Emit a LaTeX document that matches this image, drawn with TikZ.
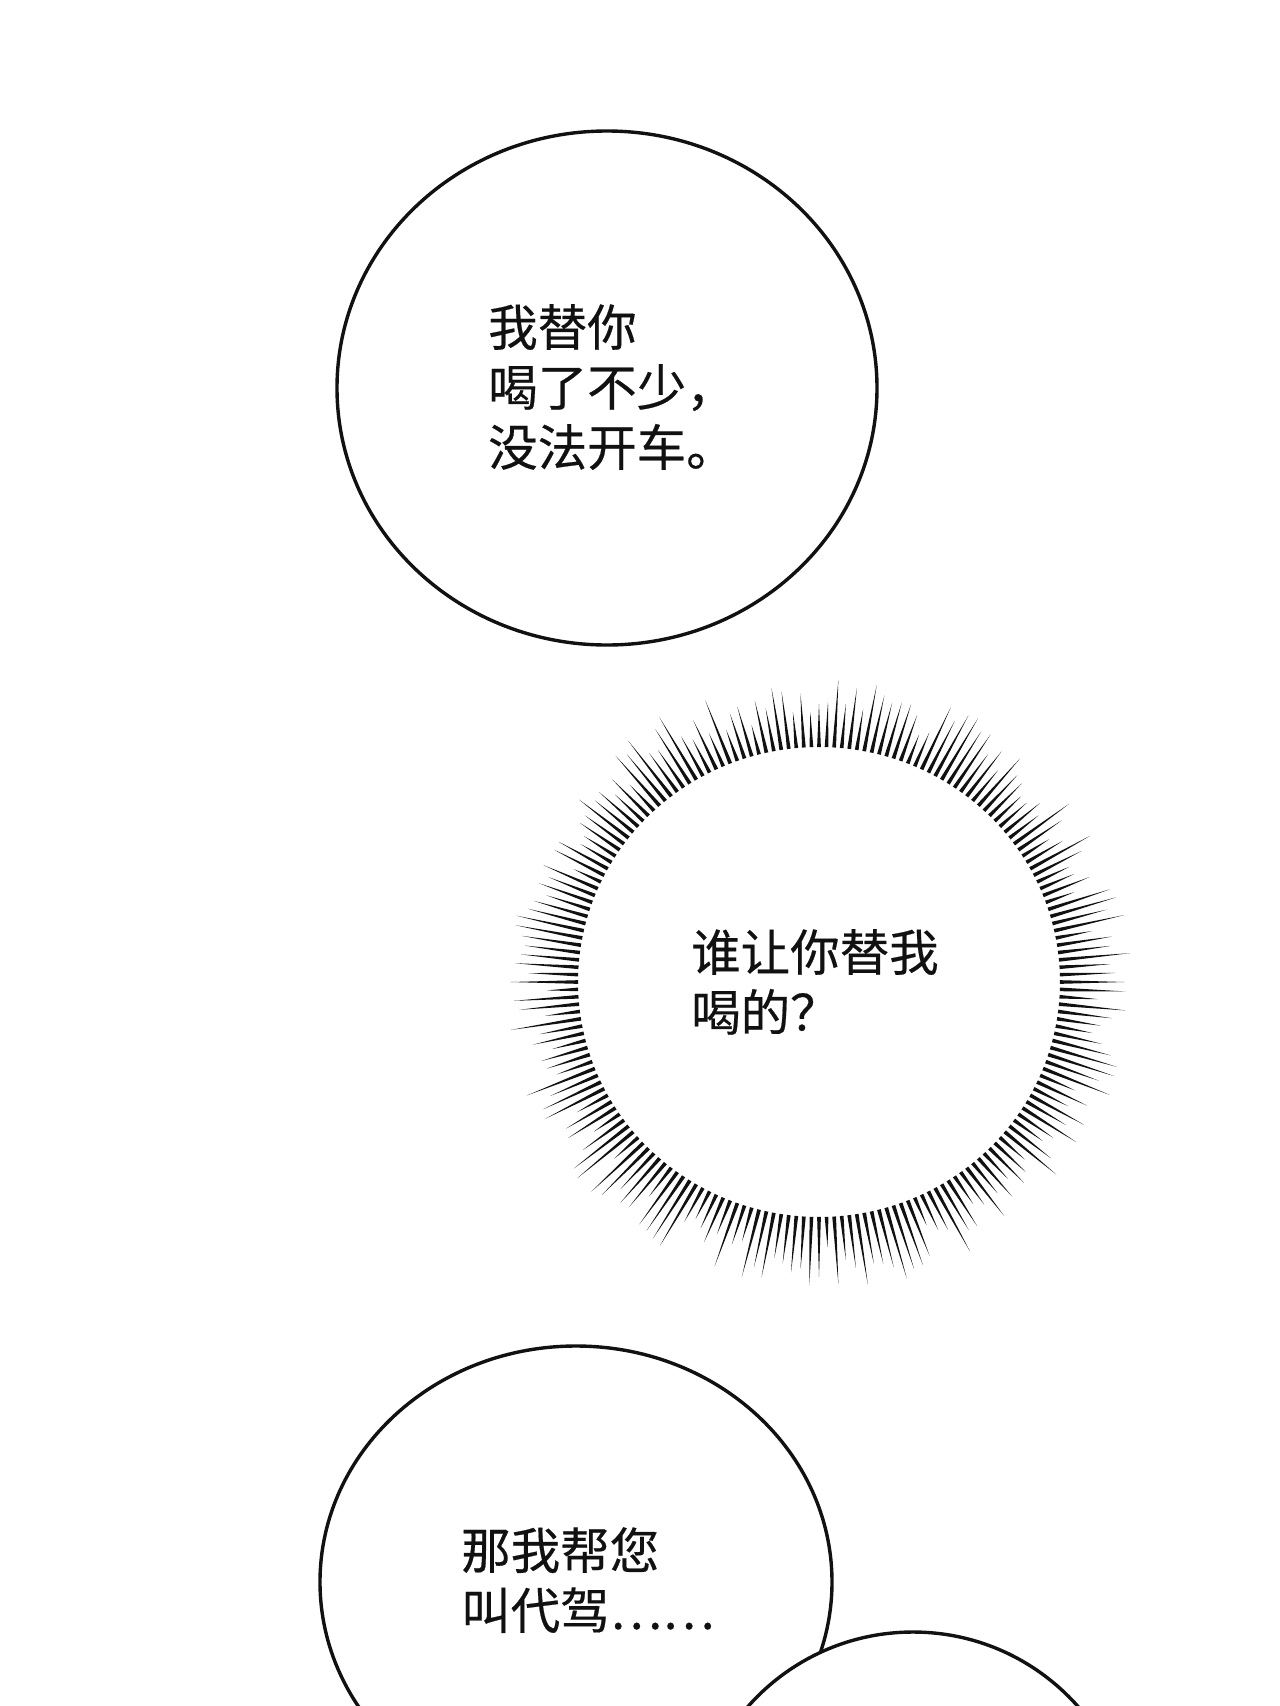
\documentclass[tikz,border=0pt]{standalone}
\usepackage{fontspec}
\setmainfont{Noto Sans CJK SC}[FakeBold=0.4]
\usepackage{tikz}
\usetikzlibrary{shapes.geometric}
\definecolor{ink}{HTML}{111111}
\definecolor{paper}{HTML}{FFFFFF}
\tikzset{
  bubble/.style={ellipse, draw=ink, fill=paper, line width=3.4pt, inner sep=0pt},
  say/.style={text=ink, font=\fontsize{49.5}{60}\selectfont, align=left, inner sep=0pt, anchor=north west},
  spike/.style={fill=ink}
}
\begin{document}
\begin{tikzpicture}[x=1pt,y=-1pt]
  \useasboundingbox (0,0) rectangle (1280,1706);
  \fill[paper] (0,0) rectangle (1280,1706);
  \clip (0,0) rectangle (1280,1706);
  % top bubble
  \node[bubble, minimum width=540pt, minimum height=514pt] (b1) at (607,388) {};
  \node[say] (t1) at (488,304) {我替你\\喝了不少，\\没法开车。};
  % burst
  \coordinate (burst) at (819,982);
  \pgfmathsetseed{4}
  \foreach \i in {0,...,199} {
    \pgfmathsetmacro\a{360/200*\i}
    \pgfmathsetmacro\len{30+44*rnd}
    \pgfmathsetmacro\ax{241*cos(\a-0.45)}
    \pgfmathsetmacro\ay{235*sin(\a-0.45)}
    \pgfmathsetmacro\bx{241*cos(\a+0.45)}
    \pgfmathsetmacro\by{235*sin(\a+0.45)}
    \pgfmathsetmacro\tx{(241+\len)*cos(\a)}
    \pgfmathsetmacro\ty{(235+\len)*sin(\a)}
    \fill[spike] ([shift={(\ax,\ay)}]burst) -- ([shift={(\tx,\ty)}]burst)
      -- ([shift={(\bx,\by)}]burst) -- cycle;
  }
  \node[say] (t2) at (691,929) {谁让你替我\\喝的？};
  % bottom bubbles
  \node[bubble, minimum width=512pt, minimum height=472pt] (b3) at (576,1582) {};
  \node[say] (t3) at (461,1527) {那我帮您\\叫代驾……};
  \node[bubble, minimum width=440pt, minimum height=440pt] (b4) at (913,1852) {};
\end{tikzpicture}
\end{document}
